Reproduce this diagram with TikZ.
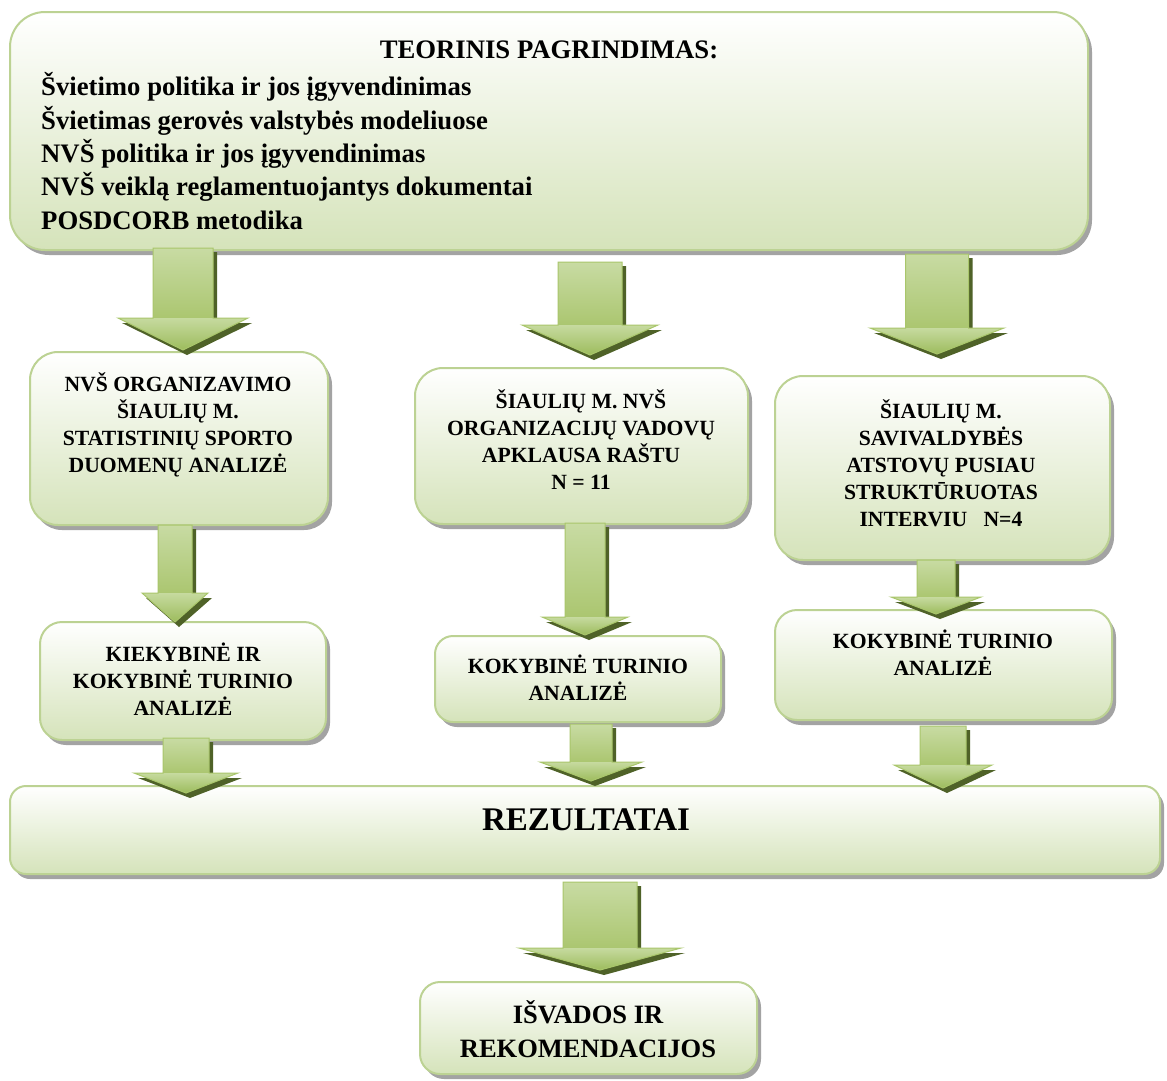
\documentclass[tikz,border=0pt]{standalone}
\usepackage{fontspec}
\setmainfont{Liberation Serif}
\usetikzlibrary{shadows}
\definecolor{boxline}{HTML}{BCD293}
\definecolor{boxbot}{HTML}{D5E3BA}
\definecolor{boxshadow}{HTML}{A3A3A3}
\definecolor{arrlight}{HTML}{C8DBA3}
\definecolor{arrmid}{HTML}{99BA55}
\definecolor{arrlow}{HTML}{ABC670}
\definecolor{headtop}{HTML}{C6DA9F}
\definecolor{headbot}{HTML}{9DBC5D}
\definecolor{arrshade}{HTML}{4F6228}
\definecolor{arredge}{HTML}{A9C66B}
\tikzset{
  box/.style={rectangle, draw=boxline, line width=2pt, top color=white, bottom color=boxbot,
    inner sep=0pt, drop shadow={shadow xshift=4pt, shadow yshift=-5pt, fill=boxshadow, opacity=1}},
  txt/.style={font=\bfseries\fontsize{21.7}{27}\selectfont, align=center, inner sep=0pt, text=black},
  bigtxt/.style={font=\bfseries\fontsize{26.7}{33.4}\selectfont, inner sep=0pt, text=black},
  arrshadow/.style={fill=arrshade},
  arrshaft/.style={top color=arrlight, middle color=arrmid, bottom color=arrlow},
  arrhead/.style={top color=headtop, bottom color=headbot},
  arroutline/.style={draw=arredge, line width=1pt, line join=miter},
}
% x, ytop, yneck, ytip, halfshaft, halfhead
\newcommand{\blockarr}[6]{%
  \fill[arrshadow] ({#1-#5+4},{#2+4}) -- ({#1+#5+4},{#2+4}) -- ({#1+#5+4},{#3+5}) -- ({#1+#6+4},{#3+5})
     -- ({#1+4},{#4+5}) -- ({#1-#6+4},{#3+5}) -- ({#1-#5+4},{#3+5}) -- cycle;
  \shade[arrshaft] ({#1-#5},#2) rectangle ({#1+#5},#3);
  \shade[arrhead] ({#1-#6},#3) -- ({#1+#6},#3) -- (#1,#4) -- cycle;
  \draw[arroutline] ({#1-#5},#2) -- ({#1+#5},#2) -- ({#1+#5},#3) -- ({#1+#6},#3)
     -- (#1,#4) -- ({#1-#6},#3) -- ({#1-#5},#3) -- cycle;
}
\begin{document}
\begin{tikzpicture}[x=1pt,y=-1pt]
\useasboundingbox (0,0) rectangle (1167,1080);
\fill[white] (0,0) rectangle (1167,1080);

% boxes
\node[box, rounded corners=35pt, minimum width=1078pt, minimum height=238pt] (top) at (549,131) {};
\node[box, rounded corners=28pt, minimum width=298pt, minimum height=173pt] (l1) at (179,438.5) {};
\node[box, rounded corners=28pt, minimum width=333pt, minimum height=156pt] (m1) at (581.5,446) {};
\node[box, rounded corners=28pt, minimum width=335pt, minimum height=184pt] (r1) at (942.5,468) {};
\node[box, rounded corners=22pt, minimum width=286pt, minimum height=118pt] (l2) at (183,681) {};
\node[box, rounded corners=18pt, minimum width=286pt, minimum height=86pt] (m2) at (578,679) {};
\node[box, rounded corners=22pt, minimum width=337pt, minimum height=110pt] (r2) at (943.5,665) {};
\node[box, rounded corners=16pt, minimum width=1150pt, minimum height=88pt] (rez) at (585,830) {};
\node[box, rounded corners=20pt, minimum width=337pt, minimum height=92pt] (isv) at (588.5,1028) {};

% block arrows
\blockarr{183}{248}{318}{350}{30}{65}
\blockarr{590}{262}{325}{355}{32}{68}
\blockarr{937}{254}{328}{354}{31.5}{67}
\blockarr{175}{525}{593}{622}{17}{33}
\blockarr{585}{523}{617}{635}{20}{43}
\blockarr{936}{560}{597}{614}{19}{45}
\blockarr{186}{738}{773}{793}{23}{52}
\blockarr{591}{724}{762}{781}{21}{51}
\blockarr{943}{726}{765}{788}{23}{49}
\blockarr{600}{882}{948}{970}{37}{81}

% texts
\node[bigtxt] (title) at (549,50) {TEORINIS PAGRINDIMAS:};
\node[bigtxt, anchor=west, align=left] (list) at (41,151) {Švietimo politika ir jos įgyvendinimas\\
Švietimas gerovės valstybės modeliuose\\
NVŠ politika ir jos įgyvendinimas\\
NVŠ veiklą reglamentuojantys dokumentai\\
POSDCORB metodika};

\node[txt] (l1t) at (178,425) {NVŠ ORGANIZAVIMO\\ŠIAULIŲ M.\\STATISTINIŲ SPORTO\\DUOMENŲ ANALIZĖ};
\node[txt] (m1t) at (581,440) {ŠIAULIŲ M. NVŠ\\ORGANIZACIJŲ VADOVŲ\\APKLAUSA RAŠTU\\N = 11};
\node[txt] (r1t) at (941,463) {ŠIAULIŲ M.\\SAVIVALDYBĖS\\ATSTOVŲ PUSIAU\\STRUKTŪRUOTAS\\INTERVIU\ \ \ N=4};
\node[txt] (l2t) at (183,679) {KIEKYBINĖ IR\\KOKYBINĖ TURINIO\\ANALIZĖ};
\node[txt] (m2t) at (578,678) {KOKYBINĖ TURINIO\\ANALIZĖ};
\node[txt] (r2t) at (943,653) {KOKYBINĖ TURINIO\\ANALIZĖ};
\node[font=\bfseries\fontsize{33}{38}\selectfont, inner sep=0pt] (rezt) at (586,820) {REZULTATAI};
\node[font=\bfseries\fontsize{26.5}{34}\selectfont, align=center, inner sep=0pt] (isvt) at (588,1029) {IŠVADOS IR\\REKOMENDACIJOS};
\end{tikzpicture}
\end{document}
